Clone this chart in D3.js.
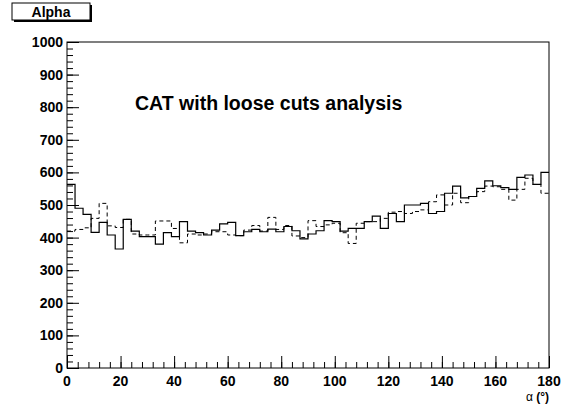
<!DOCTYPE html>
<html>
<head>
<meta charset="utf-8">
<script src="https://cdn.jsdelivr.net/npm/d3@7"></script>
<style>
  body { margin: 0; background: #fff; }
  text { font-family: "Liberation Sans", Arial, sans-serif; }
</style>
</head>
<body>
<div class="chart"></div>
<script>
// Data: 60 bins of 3 degrees
const binEdges = d3.range(0, 181, 3);
const solidCounts = [
    563, 490, 471, 416, 447, 408, 365, 456, 420, 403,
    403, 380, 415, 403, 449, 420, 415, 408, 423, 442,
    447, 406, 418, 425, 418, 426, 418, 434, 421, 396,
    411, 421, 452, 449, 420, 428, 428, 449, 466, 428,
    474, 449, 500, 500, 505, 474, 480, 536, 558, 522,
    526, 551, 574, 559, 553, 548, 585, 592, 563, 600
];
const dashedCounts = [
    420, 425, 430, 459, 505, 436, 431, 456, 411, 408,
    408, 451, 451, 428, 384, 411, 408, 411, 418, 418,
    408, 406, 423, 437, 420, 462, 425, 437, 405, 400,
    452, 434, 439, 444, 415, 382, 444, 449, 449, 459,
    478, 480, 474, 480, 485, 510, 531, 500, 536, 507,
    526, 541, 558, 556, 548, 515, 548, 582, 563, 536
];
const xTicks = d3.range(0, 181, 20);
const yTicks = d3.range(0, 1001, 100);

const width = 564;
const height = 404;
const frame = {left: 67, right: 549, top: 42, bottom: 368};

const svg = d3.select('.chart')
    .append('svg')
    .attr('width', width)
    .attr('height', height);

const x = d3.scaleLinear().domain([0, 180]).range([frame.left, frame.right]);
const y = d3.scaleLinear().domain([0, 1000]).range([frame.bottom, frame.top]);

// Step path for a histogram
function stepPath(counts) {
    let pts = [];
    counts.forEach((c, i) => {
        pts.push([x(binEdges[i]), y(c)]);
        pts.push([x(binEdges[i + 1]), y(c)]);
    });
    return d3.line()(pts);
}

svg.append('path')
    .attr('d', stepPath(dashedCounts))
    .attr('fill', 'none')
    .attr('stroke', '#000')
    .attr('stroke-width', 1)
    .attr('stroke-dasharray', '4 3');

svg.append('path')
    .attr('d', stepPath(solidCounts))
    .attr('fill', 'none')
    .attr('stroke', '#000')
    .attr('stroke-width', 1.2);

// Frame
svg.append('rect')
    .attr('x', frame.left)
    .attr('y', frame.top)
    .attr('width', frame.right - frame.left)
    .attr('height', frame.bottom - frame.top)
    .attr('fill', 'none')
    .attr('stroke', '#000')
    .attr('stroke-width', 1);

// Axes (ROOT style: ticks pointing inside)
svg.append('g')
    .attr('transform', `translate(0,${frame.bottom})`)
    .call(d3.axisTop(x).tickValues(d3.range(0, 181, 4)).tickSize(6).tickFormat(''))
    .call(g => g.select('.domain').remove());
svg.append('g')
    .attr('transform', `translate(0,${frame.bottom})`)
    .call(d3.axisTop(x).tickValues(xTicks).tickSize(12).tickFormat(''))
    .call(g => g.select('.domain').remove());

svg.append('g')
    .attr('transform', `translate(${frame.left},0)`)
    .call(d3.axisRight(y).tickValues(d3.range(0, 1001, 20)).tickSize(6).tickFormat(''))
    .call(g => g.select('.domain').remove());
svg.append('g')
    .attr('transform', `translate(${frame.left},0)`)
    .call(d3.axisRight(y).tickValues(yTicks).tickSize(12).tickFormat(''))
    .call(g => g.select('.domain').remove());

// Tick labels
svg.append('g')
    .selectAll('text')
    .data(xTicks)
    .join('text')
    .attr('x', d => x(d))
    .attr('y', 386)
    .attr('text-anchor', 'middle')
    .attr('font-size', 14)
    .attr('font-weight', 'bold')
    .text(d => d);

svg.append('g')
    .selectAll('text')
    .data(yTicks)
    .join('text')
    .attr('x', 63)
    .attr('y', d => y(d) + 5)
    .attr('text-anchor', 'end')
    .attr('font-size', 14)
    .attr('font-weight', 'bold')
    .text(d => d);

// Axis title
const xt = svg.append('text')
    .attr('x', frame.right)
    .attr('y', 401)
    .attr('text-anchor', 'end')
    .attr('font-size', 12);
xt.append('tspan').text('α ');
xt.append('tspan').attr('font-weight', 'bold').text('(°)');

// Title box
svg.append('rect')
    .attr('x', 14).attr('y', 5).attr('width', 78).attr('height', 17)
    .attr('fill', '#000');
svg.append('rect')
    .attr('x', 12).attr('y', 3).attr('width', 78).attr('height', 17)
    .attr('fill', '#fff')
    .attr('stroke', '#000')
    .attr('stroke-width', 1);
svg.append('text')
    .attr('x', 51).attr('y', 17)
    .attr('text-anchor', 'middle')
    .attr('font-size', 14)
    .attr('font-weight', 'bold')
    .text('Alpha');

// Annotation
svg.append('text')
    .attr('x', 135).attr('y', 110)
    .attr('font-size', 19.5)
    .attr('font-weight', 'bold')
    .text('CAT with loose cuts analysis');
</script>
</body>
</html>
